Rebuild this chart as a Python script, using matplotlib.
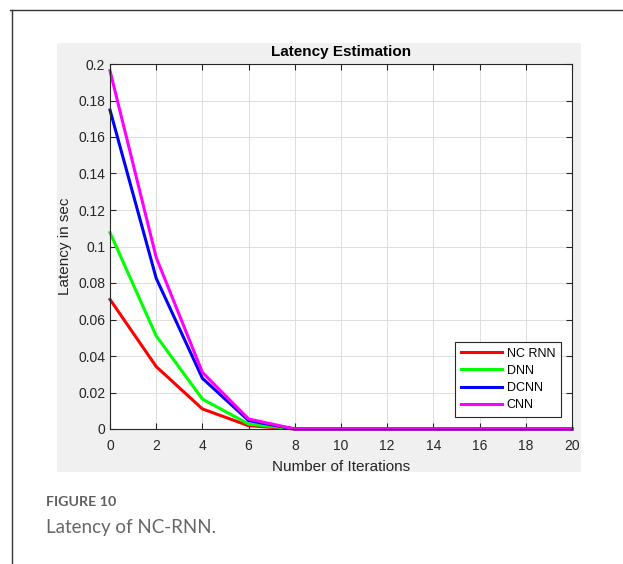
import matplotlib.pyplot as plt
import numpy as np
from matplotlib.lines import Line2D
from matplotlib.patches import Rectangle
from matplotlib.ticker import FormatStrFormatter

# latency per iteration for each network
iterations = [0, 2, 4, 6, 8, 10, 12, 14, 16, 18, 20]
nc_rnn = [0.071, 0.0342, 0.011, 0.0018, 0, 0, 0, 0, 0, 0, 0]
dnn = [0.1076, 0.051, 0.0164, 0.0027, 0, 0, 0, 0, 0, 0, 0]
dcnn = [0.1748, 0.0826, 0.0278, 0.0046, 0, 0, 0, 0, 0, 0, 0]
cnn = [0.1963, 0.094, 0.031, 0.0055, 0, 0, 0, 0, 0, 0, 0]

series = [("NC RNN", nc_rnn, "#ff0000"),
          ("DNN", dnn, "#00ff00"),
          ("DCNN", dcnn, "#0000ff"),
          ("CNN", cnn, "#ff00ff")]

W, H = 623, 564
fig = plt.figure(figsize=(W/100, H/100), dpi=100)
fig.patch.set_facecolor('white')

# matlab-style grey figure panel
fig.patches.append(Rectangle((57/W, 1-472/H), (581-57)/W, (472-43)/H,
                             transform=fig.transFigure, facecolor='#f0f0f0',
                             edgecolor='none', zorder=-10))
# page frame lines
fig.lines.append(Line2D([10/W, 1], [1-10/H, 1-10/H], transform=fig.transFigure,
                        color='#333333', lw=1.0))
fig.lines.append(Line2D([12/W, 12/W], [0, 1-10/H], transform=fig.transFigure,
                        color='#333333', lw=1.0))

ax = fig.add_axes([110/W, 1-429/H, (572-110)/W, (429-64)/H])
ax.set_facecolor('white')
for name, vals, c in series:
    ax.plot(iterations, vals, color=c, lw=2.2, label=name, clip_on=False)

ax.set_xlim(0, 20)
ax.set_ylim(0, 0.2)
ax.set_xticks(np.arange(0, 21, 2))
ax.set_yticks(np.arange(0, 0.201, 0.02))
ax.yaxis.set_major_formatter(FormatStrFormatter('%g'))
ax.grid(True, color='#dedede', lw=0.7)
ax.set_axisbelow(True)
ax.tick_params(direction='in', top=True, right=True, length=4, width=0.8,
               colors='#262626', labelsize=10, labelcolor='#262626')
ax.tick_params(axis='x', pad=7)
for s in ax.spines.values():
    s.set_color('#262626')
    s.set_linewidth(0.8)

for lbl in ax.get_xticklabels() + ax.get_yticklabels():
    lbl.set_family('Liberation Sans')

ax.set_title("Latency Estimation", fontsize=11, fontweight='bold',
             family='Liberation Sans', color='#000000', pad=6)
ax.set_xlabel("Number of Iterations", fontsize=11, family='Liberation Sans',
              color='#262626', labelpad=5)
ax.set_ylabel("Latency in sec", fontsize=11, family='Liberation Sans',
              color='#262626', labelpad=4)

leg = ax.legend(loc='lower right', bbox_to_anchor=(0.976, 0.033), borderaxespad=0,
                fancybox=False, edgecolor='#262626', framealpha=1,
                prop={'family': 'Liberation Sans', 'size': 9},
                handlelength=3.3, handletextpad=0.4, labelspacing=0.42,
                borderpad=0.45)
leg.get_frame().set_linewidth(0.8)

fig.text(46/W, 1-502/H, "FIGURE 10", fontsize=10.3, fontweight='bold',
         family='Lato', color='#5f5f5f', va='center', ha='left')
fig.text(46/W, 1-527/H, "Latency of NC-RNN.", fontsize=13.5,
         family='Lato', color='#666666', va='center', ha='left')

fig.savefig("out.png", dpi=100)
